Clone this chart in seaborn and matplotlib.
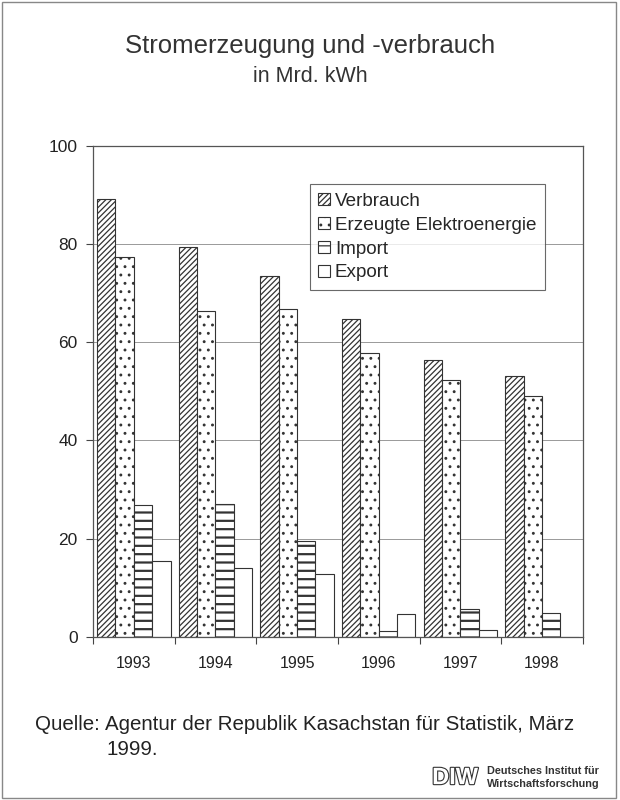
import numpy as np
import pandas as pd
import seaborn as sns
import matplotlib
matplotlib.use("Agg")
import matplotlib.pyplot as plt
import matplotlib.patheffects as pe
from matplotlib.patches import Rectangle, Patch

# Werte in Mrd. kWh
years = ["1993", "1994", "1995", "1996", "1997", "1998"]
verbrauch = [89.2, 79.4, 73.5, 64.6, 56.4, 53.0]
erzeugt = [77.4, 66.4, 66.8, 57.8, 52.3, 49.1]
imports = [26.9, 27.1, 19.5, 1.1, 5.6, 4.8]
exports = [15.5, 14.1, 12.8, 4.7, 1.3, 0.0]
series = ["Verbrauch", "Erzeugte Elektroenergie", "Import", "Export"]
hatches = ["//////", "..", "--", ""]
hatch_lw = [0.9, 0.9, 1.6, 0.8]
y_ticks = [0, 20, 40, 60, 80, 100]

df = pd.DataFrame({
    "Jahr": years * 4,
    "Reihe": np.repeat(series, len(years)),
    "Wert": verbrauch + erzeugt + imports + exports,
})

sns.set_style("white")
plt.rcParams["font.family"] = ["Liberation Sans", "DejaVu Sans"]
plt.rcParams["hatch.color"] = "#333333"
plt.rcParams["hatch.linewidth"] = 0.9

fig = plt.figure(figsize=(6.2, 8), dpi=100)
ax = fig.add_axes([0.150, 0.204, 0.790, 0.614])

sns.barplot(data=df, x="Jahr", y="Wert", hue="Reihe", order=years,
            hue_order=series, width=0.9, palette=["white"] * 4,
            edgecolor="#333333", linewidth=0.8, ax=ax, legend=False, saturation=1)

def style_bar(p, h, lw):
    p.set_hatch(h)
    p.set_facecolor("white")
    p.set_edgecolor("#333333")
    if hasattr(p, "set_hatch_linewidth"):
        p.set_hatch_linewidth(lw)

for cont, h, lw in zip(ax.containers, hatches, hatch_lw):
    for bar in cont:
        style_bar(bar, h, lw)

ax.set_ylim(0, 100)
ax.set_xlim(-0.5, len(years) - 0.5)
ax.set_yticks(y_ticks)
ax.set_yticklabels([str(t) for t in y_ticks], fontsize=12.5, color="#222222")
ax.set_xlabel("")
ax.set_ylabel("")
ax.tick_params(axis="x", length=0, labelsize=11.5, pad=14, labelcolor="#222222")
ax.set_xticks(np.arange(-0.5, len(years)), minor=True)
ax.tick_params(axis="x", which="minor", length=5, width=0.8, color="#444444", direction="out", bottom=True)
ax.tick_params(axis="y", length=5, width=0.8, color="#444444", direction="out", left=True, pad=6)
ax.grid(axis="y", color="#999999", linewidth=0.7)
ax.set_axisbelow(True)
for s in ax.spines.values():
    s.set_color("#555555")
    s.set_linewidth(0.9)
    s.set_visible(True)

handles = []
for h, lw in zip(hatches, hatch_lw):
    p = Patch(facecolor="white", edgecolor="#333333", linewidth=0.8)
    style_bar(p, h, lw)
    handles.append(p)
leg = ax.legend(handles, series, loc="upper left", bbox_to_anchor=(0.443, 0.921),
                fontsize=13.6, frameon=True, fancybox=False, handlelength=0.62,
                handleheight=0.62, handletextpad=0.25, labelspacing=0.36,
                borderpad=0.45, borderaxespad=0)
leg.get_frame().set_edgecolor("#444444")
leg.get_frame().set_linewidth(0.8)

fig.text(0.5, 0.943, "Stromerzeugung und -verbrauch", ha="center", va="center",
         fontsize=18.5, color="#333333")
fig.text(0.5, 0.904, "in Mrd. kWh", ha="center", va="center",
         fontsize=15.5, color="#333333")

fig.text(0.056, 0.095, "Quelle:", ha="left", va="center", fontsize=14.8, color="#222222")
fig.text(0.169, 0.095, "Agentur der Republik Kasachstan für Statistik, März",
         ha="left", va="center", fontsize=14.8, color="#222222")
fig.text(0.171, 0.063, "1999.", ha="left", va="center", fontsize=14.8, color="#222222")

# DIW-Logo
fig.text(0.697, 0.028, "DIW", ha="left", va="center", fontsize=17, fontweight="bold",
         color="white",
         path_effects=[pe.withStroke(linewidth=1.6, foreground="#333333")])
fig.text(0.785, 0.036, "Deutsches Institut für", ha="left", va="center",
         fontsize=7.8, fontweight="bold", color="#333333")
fig.text(0.785, 0.020, "Wirtschaftsforschung", ha="left", va="center",
         fontsize=7.8, fontweight="bold", color="#333333")

fig.patches.append(Rectangle((0.004, 0.003), 0.990, 0.994, transform=fig.transFigure,
                             fill=False, edgecolor="#888888", linewidth=1.0))

fig.savefig("out.png", dpi=100, facecolor="white")
